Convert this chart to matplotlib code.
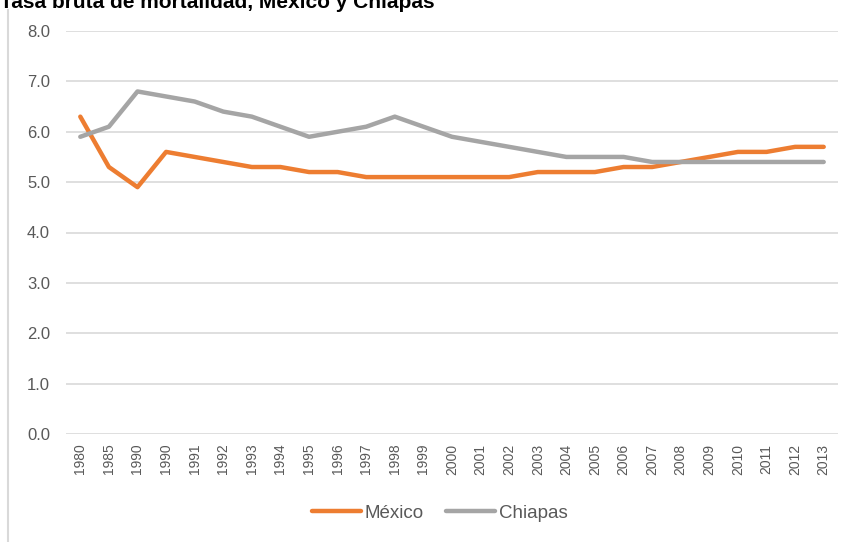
import matplotlib
matplotlib.use("Agg")
import matplotlib.pyplot as plt
from matplotlib.lines import Line2D

# data
years = ["1980", "1985", "1990", "1990", "1991", "1992", "1993", "1994", "1995",
         "1996", "1997", "1998", "1999", "2000", "2001", "2002", "2003", "2004",
         "2005", "2006", "2007", "2008", "2009", "2010", "2011", "2012", "2013"]
mexico = [6.3, 5.3, 4.9, 5.6, 5.5, 5.4, 5.3, 5.3, 5.2, 5.2, 5.1, 5.1, 5.1, 5.1,
          5.1, 5.1, 5.2, 5.2, 5.2, 5.3, 5.3, 5.4, 5.5, 5.6, 5.6, 5.7, 5.7]
chiapas = [5.9, 6.1, 6.8, 6.7, 6.6, 6.4, 6.3, 6.1, 5.9, 6.0, 6.1, 6.3, 6.1, 5.9,
           5.8, 5.7, 5.6, 5.5, 5.5, 5.5, 5.4, 5.4, 5.4, 5.4, 5.4, 5.4, 5.4]
y_ticks = [0, 1, 2, 3, 4, 5, 6, 7, 8]

orange = "#ED7D31"
gray = "#A5A5A5"
grid_col = "#D9D9D9"
text_col = "#595959"

plt.rcParams['font.family'] = ['Liberation Sans', 'DejaVu Sans']

fig = plt.figure(figsize=(8.56, 5.42), dpi=100)
ax = fig.add_axes([66/856, 1-434/542, (838-66)/856, (434-31)/542])

x = list(range(len(years)))
ax.plot(x, mexico, color=orange, lw=3.2, solid_capstyle='round', label="México", zorder=3)
ax.plot(x, chiapas, color=gray, lw=3.2, solid_capstyle='round', label="Chiapas", zorder=3)

ax.set_xlim(-0.5, len(years) - 0.5)
ax.set_ylim(0, 8)
ax.set_yticks(y_ticks)
ax.set_yticklabels(["{:.1f}".format(v) for v in y_ticks])
ax.set_xticks(x)
ax.set_xticklabels(years, rotation=90)
ax.tick_params(axis='y', length=0, pad=11.5, labelsize=12, labelcolor=text_col)
ax.tick_params(axis='x', length=0, pad=7, labelsize=10, labelcolor=text_col)
for lbl in ax.get_xticklabels():
    lbl.set_verticalalignment('top')

ax.grid(axis='y', color=grid_col, lw=1.2)
ax.set_axisbelow(True)
for s in ax.spines.values():
    s.set_visible(False)

# chart title, cropped at the top like the source image
fig.text(0.0, 1-8/542, "Tasa bruta de mortalidad, México y Chiapas",
         fontsize=15, fontweight='bold', color='black', ha='left', va='baseline')

# light border on the left side
fig.add_artist(Line2D([8/856, 8/856], [0, 1-10/542], color=grid_col, lw=1.5,
                      transform=fig.transFigure))

fig.legend(handles=ax.get_lines(), loc='center', bbox_to_anchor=(440/856, 1-513/542),
           ncol=2, frameon=False, fontsize=13.5, handlelength=2.6, handletextpad=0.2,
           columnspacing=1.2, labelcolor=text_col)

fig.savefig("out.png", dpi=100)
